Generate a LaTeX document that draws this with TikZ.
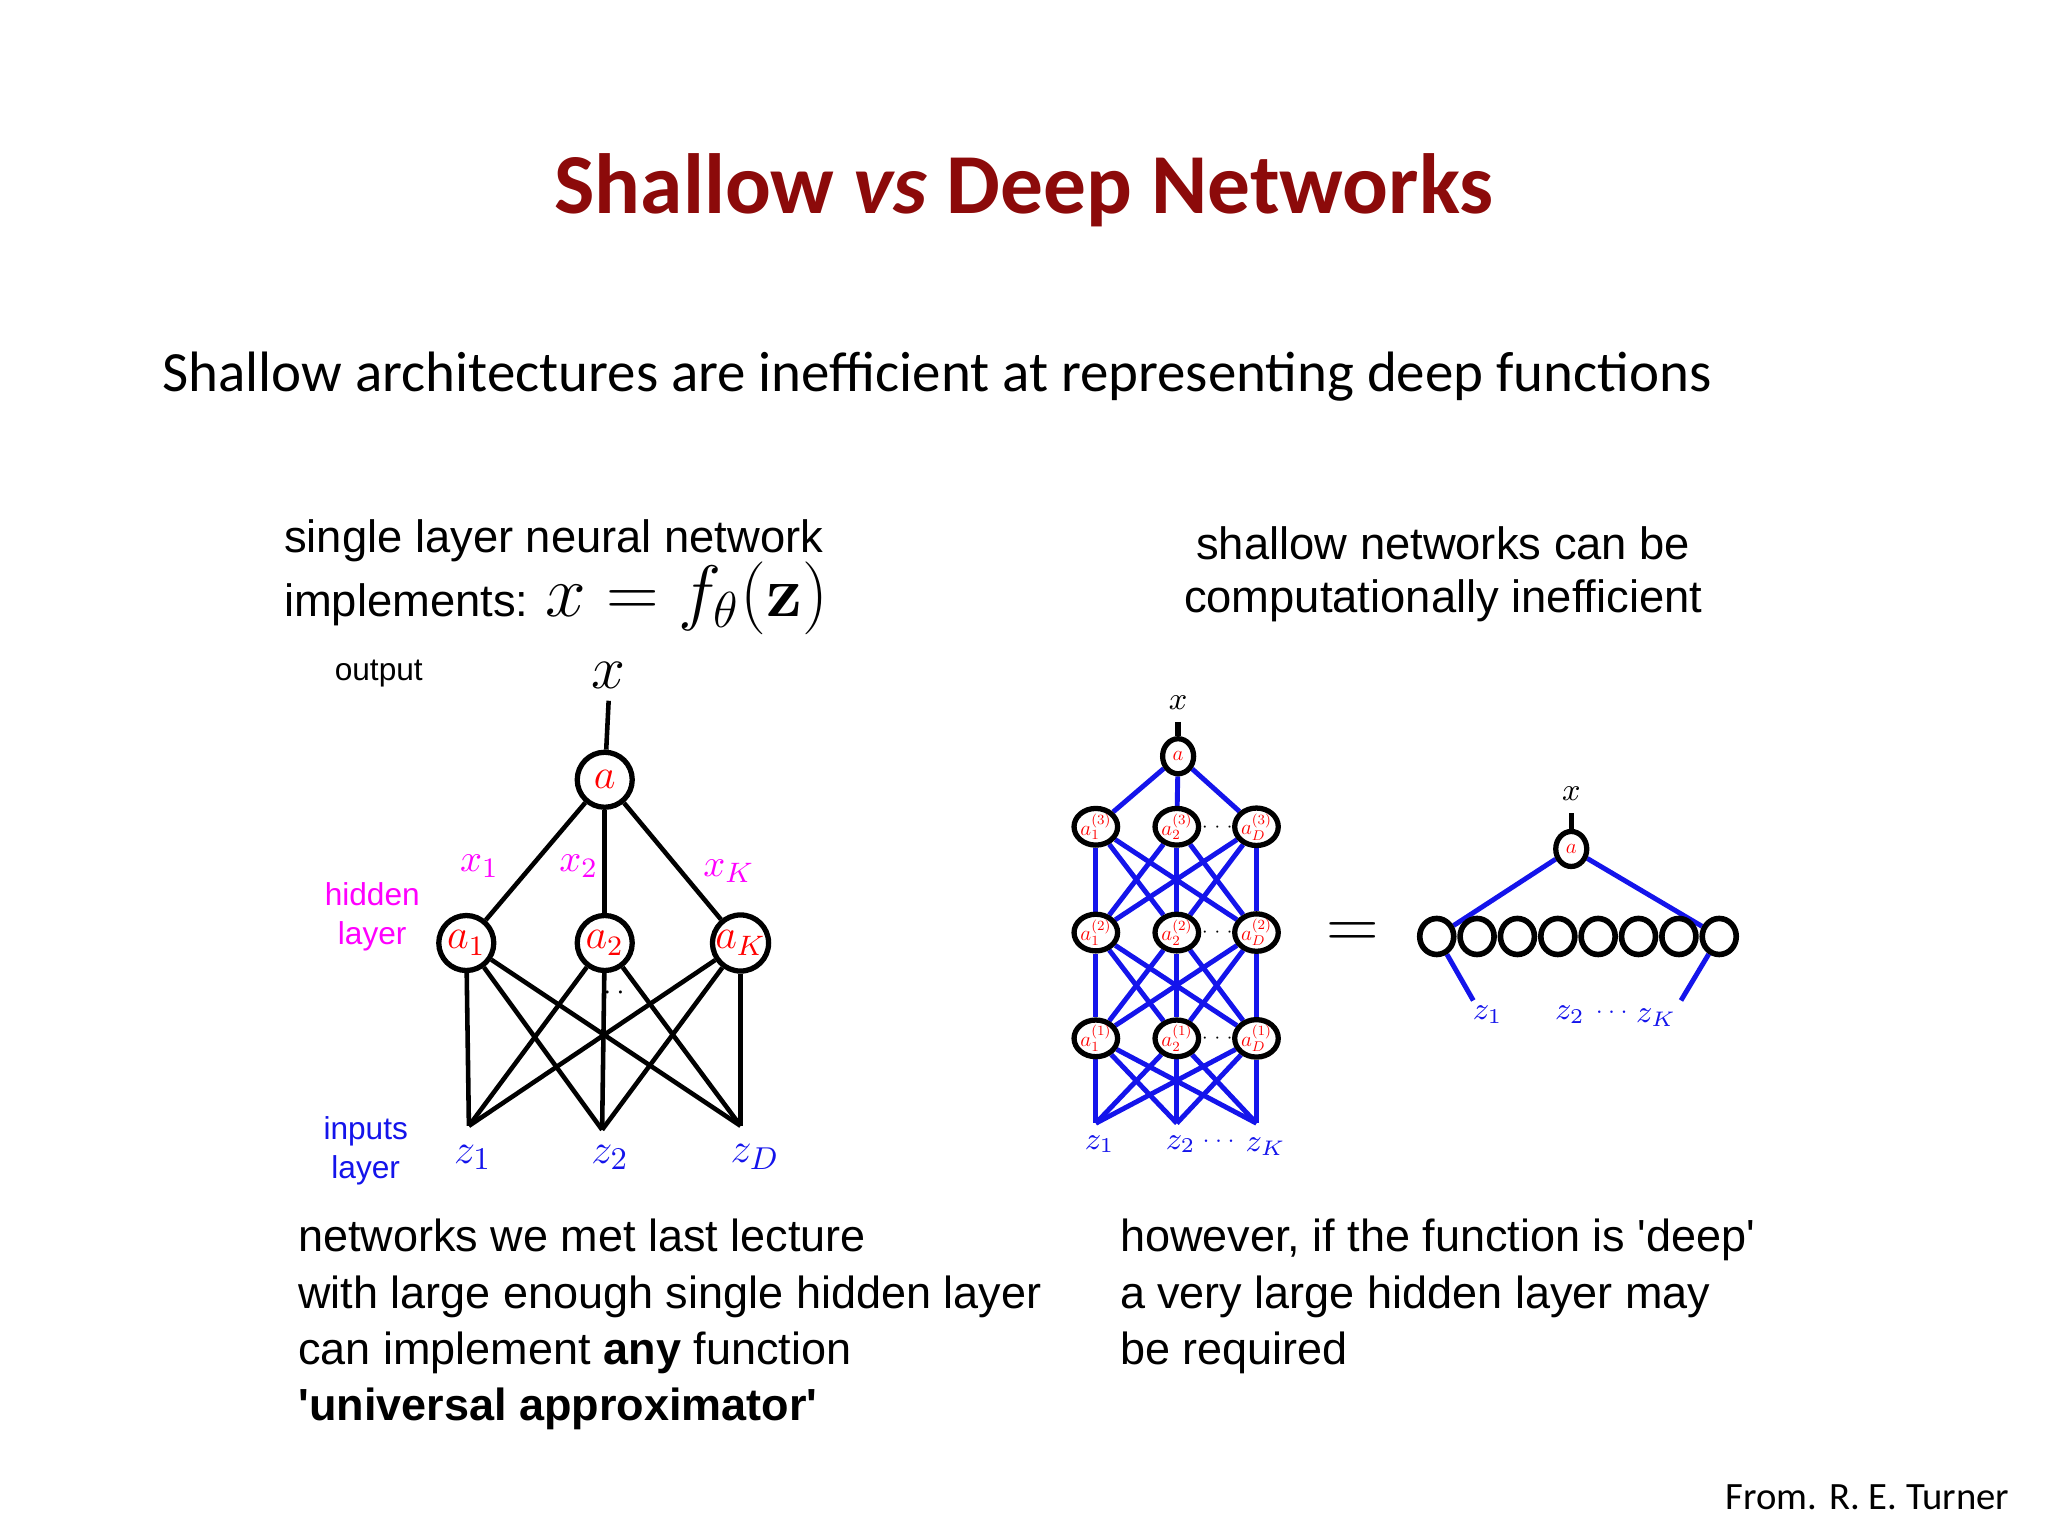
\documentclass[tikz,border=0pt]{standalone}
\usepackage{fontspec}
\setmainfont{Carlito}
\newfontfamily\arial{Liberation Sans}
\newfontfamily\lmr{Latin Modern Roman}
\usetikzlibrary{backgrounds,shapes.geometric}
\definecolor{titlered}{RGB}{140,10,10}
\definecolor{nblue}{RGB}{20,20,235}
\definecolor{mag}{RGB}{255,0,255}
\newcommand{\tinylab}[1]{\scalebox{0.5}{\fontsize{12}{12}\selectfont$#1$}}
\begin{document}
\begin{tikzpicture}[x=0.013061cm,y=-0.013061cm,
  big/.style={circle,draw=black,line width=1.5pt,fill=white,minimum size=5.5mm,inner sep=0pt,text=red,font=\fontsize{12}{12}\selectfont},
  sm/.style={ellipse,draw=black,line width=1.5pt,fill=white,minimum width=3.1mm,minimum height=3.5mm,inner sep=0pt,text=red},
  sh/.style={ellipse,draw=black,line width=1.6pt,fill=white,minimum width=3.4mm,minimum height=3.6mm,inner sep=0pt},
  bl/.style={line width=1.3pt,black},
  be/.style={line width=1.4pt,nblue},
  txt/.style={font=\arial\fontsize{12.9}{15}\selectfont,anchor=west}]
\useasboundingbox (0,0) rectangle (1568,1176);
% title
\node[font=\fontsize{24.3}{30}\selectfont\bfseries,text=titlered] (title) at (784,146) {Shallow \textit{vs} Deep Networks};
\node[font=\fontsize{16.2}{21}\selectfont,anchor=west] (sub) at (115,288) {Shallow architectures are inefficient at representing deep functions};
\node[font=\fontsize{11}{14}\selectfont,anchor=east] (src) at (1548,1146) {From. R. E. Turner};
% left headings
\node[txt] (h1) at (208,414) {single layer neural network};
\node[txt] (h2) at (208,458) {implements: {\fontsize{20.5}{20.5}\selectfont$x = f_\theta(\mbox{\lmr\bfseries z})$}};
\node[txt,anchor=center] (h3) at (1105,416) {shallow networks can be};
\node[txt,anchor=center] (h4) at (1105,460) {computationally inefficient};
% bottom texts
\node[txt,anchor=north west,align=left,font=\arial\fontsize{12.8}{16}\selectfont] (b1) at (219,924) {networks we met last lecture\\with large enough single hidden layer\\can implement \textbf{any} function\\\textbf{'universal approximator'}};
\node[txt,anchor=north west,align=left,font=\arial\fontsize{12.8}{16}\selectfont] (b2) at (848,924) {however, if the function is 'deep'\\a very large hidden layer may\\be required};
% left network
\node[font=\arial\fontsize{9}{9}\selectfont] (outl) at (290,516) {output};
\node[font=\arial\fontsize{9}{11}\selectfont,text=mag,align=center] (hidl) at (285,702) {hidden\\layer};
\node[font=\arial\fontsize{9}{11}\selectfont,text=nblue,align=center] (inl) at (280,881) {inputs\\layer};
\node[font=\fontsize{17}{17}\selectfont] (xo) at (466,517) {$x$};
\node[big] (a) at (463,597) {$a$};
\node[big] (a1) at (357,722) {$a_1$};
\node[big] (a2) at (463,722) {$a_2$};
\node[big] (aK) at (567,722) {$a_K$};
\coordinate (z1) at (359,862);
\coordinate (z2) at (461,865);
\coordinate (zD) at (567,862);
\node[font=\fontsize{13}{13}\selectfont,text=nblue] (lz1) at (362,886) {$z_1$};
\node[font=\fontsize{13}{13}\selectfont,text=nblue] (lz2) at (467,886) {$z_2$};
\node[font=\fontsize{13}{13}\selectfont,text=nblue] (lzD) at (578,886) {$z_D$};
\node[font=\fontsize{11}{11}\selectfont,text=mag] (lx1) at (367,663) {$x_1$};
\node[font=\fontsize{11}{11}\selectfont,text=mag] (lx2) at (443,663) {$x_2$};
\node[font=\fontsize{11}{11}\selectfont,text=mag] (lxK) at (558,667) {$x_K$};
\node[font=\fontsize{8}{8}\selectfont] (ldots) at (470,760) {$\cdot\,\cdot$};
\begin{scope}[on background layer]
\draw[bl] (xo.south) -- (a);
\foreach \h in {a1,a2,aK}{\draw[bl] (a) -- (\h);
  \foreach \z in {z1,z2,zD}{\draw[bl] (\h) -- (\z);}}
\end{scope}
% deep network
\node[font=\fontsize{9}{9}\selectfont] (dx) at (902,538) {$x$};
\node[sm] (da) at (902,579) {\tinylab{a}};
\foreach \r/\y in {3/633,2/714,1/795}{
  \node[sm] (d\r1) at (839,\y) {\tinylab{a_1^{(\r)}}};
  \node[sm] (d\r2) at (901,\y) {\tinylab{a_2^{(\r)}}};
  \node[sm] (d\r3) at (962,\y) {\tinylab{a_D^{(\r)}}};
  \node[font=\fontsize{5}{5}\selectfont,inner sep=0pt] (dd\r) at (932,\y) {$\cdots$};
}
\coordinate (i1) at (839,860);
\coordinate (i2) at (901,860);
\coordinate (i3) at (962,860);
\node[font=\fontsize{9}{9}\selectfont,text=nblue] (dz1) at (842,876) {$z_1$};
\node[font=\fontsize{9}{9}\selectfont,text=nblue] (dz2) at (904,876) {$z_2$};
\node[font=\fontsize{6}{6}\selectfont,text=nblue] (dzd) at (933,874) {$\cdots$};
\node[font=\fontsize{9}{9}\selectfont,text=nblue] (dzK) at (969,878) {$z_K$};
\begin{scope}[on background layer]
\draw[line width=1.5pt] (dx.south) -- (da);
\foreach \c in {1,2,3}{\draw[be] (da) -- (d3\c);
  \foreach \k in {1,2,3}{
    \draw[be] (d3\c) -- (d2\k);
    \draw[be] (d2\c) -- (d1\k);
    \draw[be] (d1\c) -- (i\k);}}
\end{scope}
\node[font=\fontsize{22}{22}\selectfont] (eq) at (1036,716) {$=$};
% shallow wide
\node[font=\fontsize{9}{9}\selectfont] (sx) at (1203,608) {$x$};
\node[sm] (sa) at (1203,650) {\tinylab{a}};
\foreach \i in {0,...,7}{\node[sh] (s\i) at ({1100+\i*30.9},717) {};}
\coordinate (sz1) at (1128,766);
\coordinate (szK) at (1287,766);
\node[font=\fontsize{9}{9}\selectfont,text=nblue] (wz1) at (1139,777) {$z_1$};
\node[font=\fontsize{9}{9}\selectfont,text=nblue] (wz2) at (1202,777) {$z_2$};
\node[font=\fontsize{6}{6}\selectfont,text=nblue] (wzd) at (1234,775) {$\cdots$};
\node[font=\fontsize{9}{9}\selectfont,text=nblue] (wzK) at (1268,779) {$z_K$};
\begin{scope}[on background layer]
\draw[line width=1.5pt] (sx.south) -- (sa);
\draw[be] (sa) -- (s0);
\draw[be] (sa) -- (s7);
\draw[be] (s0) -- (sz1);
\draw[be] (s7) -- (szK);
\end{scope}
\end{tikzpicture}
\end{document}
